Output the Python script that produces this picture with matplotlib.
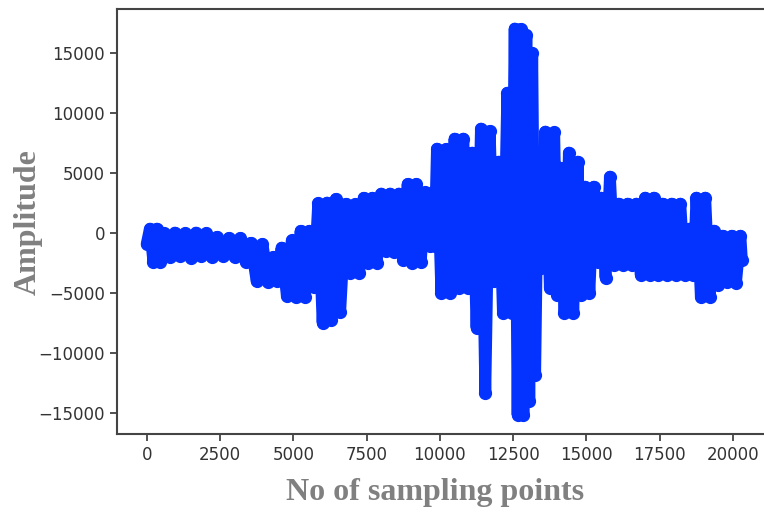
import matplotlib
matplotlib.use('Agg')
import matplotlib.pyplot as plt

sample_idx = [0, 110, 230, 350, 470,
              600, 780, 960, 1140, 1320, 1500, 1680, 1860, 2040, 2220,
              2400, 2600, 2800, 3000, 3200, 3380,
              3550, 3750, 3950, 4150, 4300, 4450,
              4600, 4780, 4950, 5100, 5250, 5400, 5550, 5700,
              5850, 6000, 6150, 6300, 6450, 6600,
              6800, 6950, 7100, 7250, 7400, 7550, 7700, 7850,
              8000, 8150, 8300, 8450, 8600, 8750,
              8900, 9050, 9200, 9350, 9500, 9650, 9780, 9820,
              9900, 10050, 10200, 10350, 10500, 10650, 10800, 10950,
              11100, 11250, 11400, 11550, 11700, 11850,
              12000, 12150, 12300, 12450,
              12550, 12650, 12750, 12850, 12950, 13050, 13150, 13250,
              13350, 13450, 13600, 13750, 13900, 14000, 14100,
              14250, 14400, 14550, 14700, 14800,
              14950, 15100, 15250, 15400, 15500, 15650, 15800,
              15950, 16100, 16250, 16400, 16550, 16700,
              16850, 17000, 17150, 17300, 17450, 17600, 17750, 17900, 18050, 18200,
              18350, 18500, 18650, 18750, 18900, 19050, 19200,
              19350, 19500, 19650, 19800, 19950, 20100, 20250, 20300]

amplitude = [-900, 380, -2380, 380, -2380,
             0, -2000, 50, -1900, 0, -2050, 50, -1900, 0, -2000,
             -300, -1900, -400, -2000, -400, -2400,
             -800, -4000, -900, -4050, -2000, -4000,
             -1200, -5200, -600, -5350, 200, -5300, 200, -4500,
             2500, -7450, 2550, -7200, 2850, -6600,
             2450, -3300, 2400, -3300, 2950, -2450, 2950, -2450,
             3300, -1500, 3300, -1550, 3300, -2200,
             4100, -2450, 4100, -2400, 3400, -1100, 3400, -1100,
             7040, -4960, 7000, -4950, 7875, -4540, 7875, -4540,
             6710, -7875, 8710, -13290, 8500, -4000,
             5960, -6620, 11700, -6620,
             17040, -15125, 17000, -15100, 16500, -14000, 15000, -11800,
             6700, -2900, 8460, -4540, 8400, -5125, 5460,
             -6620, 6710, -6620, 5960, -5125,
             3875, -4960, 3875, -2370, 2960, -3710, 4710,
             -2625, 2460, -2625, 2460, -2625, 2460,
             -3460, 2960, -3460, 2960, -3460, 2460, -3460, 2460, -3460, 2460,
             -3460, 375, -3460, 2960, -5290, 2960, -5290,
             210, -4290, -210, -4040, -210, -4125, -210, -2200]

x_ticks = [0, 2500, 5000, 7500, 10000, 12500, 15000, 17500, 20000]
y_ticks = [-15000, -10000, -5000, 0, 5000, 10000, 15000]

fig = plt.figure(figsize=(7.64, 5.12), dpi=100)
ax = fig.add_axes([0.153, 0.152, 0.857, 0.830])

ax.plot(sample_idx, amplitude, color='#0433ff', linewidth=8.5,
        marker='o', markersize=8.5, solid_joinstyle='round', solid_capstyle='round')

ax.set_xticks(x_ticks)
ax.set_yticks(y_ticks)
ax.tick_params(labelsize=12, colors='#333333', length=5, width=1.2)
for sp in ax.spines.values():
    sp.set_color('#444444')
    sp.set_linewidth(1.5)
ax.spines['right'].set_visible(False)  # falls just past the image edge

ax.set_xlabel('No of sampling points', fontsize=23, fontweight='bold',
              family='Liberation Serif', color='#808080')
ax.set_ylabel('Amplitude', fontsize=23, fontweight='bold',
              family='Liberation Serif', color='#808080')
ax.xaxis.set_label_coords(0.486, -0.102)
ax.yaxis.set_label_coords(-0.114, 0.5)

fig.savefig('out.png', dpi=100)
